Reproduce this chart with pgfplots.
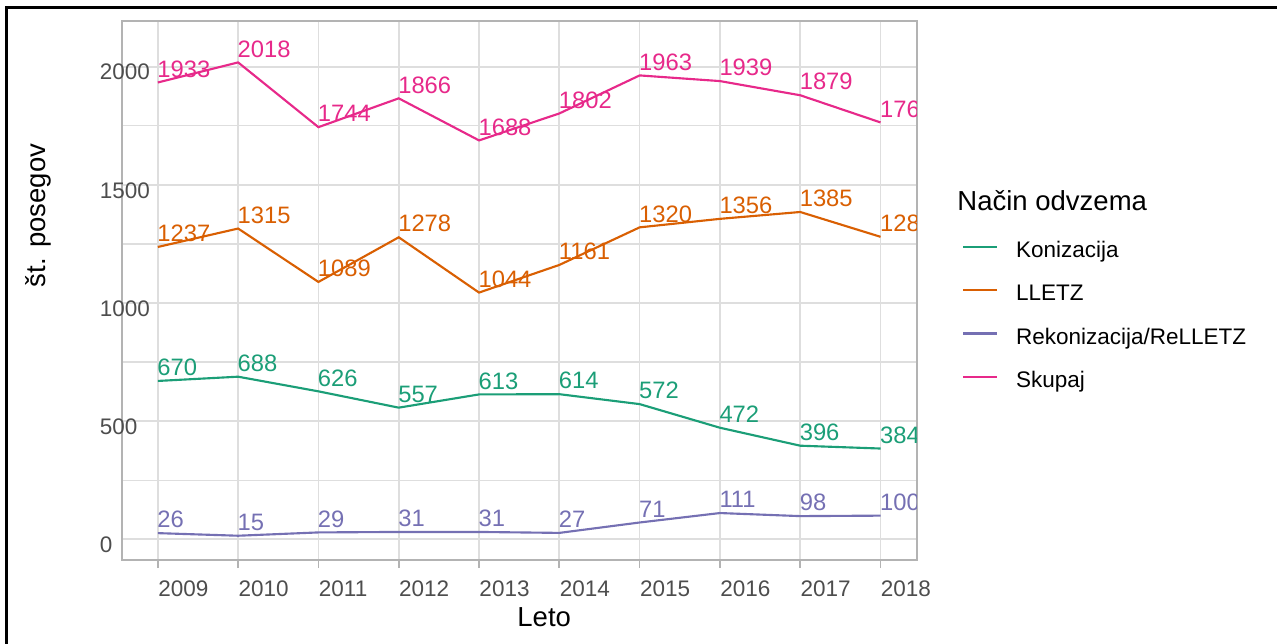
\documentclass[border=0pt]{standalone}
\usepackage{fontspec}
\setmainfont{Liberation Sans}
\usepackage{pgfplots}
\usepackage{pgfplotstable}
\pgfplotsset{compat=1.18}
\definecolor{dkA}{HTML}{1B9E77}
\definecolor{dkB}{HTML}{D95F02}
\definecolor{dkC}{HTML}{7570B3}
\definecolor{dkD}{HTML}{E7298A}
\definecolor{grA}{HTML}{B3B3B3}
\definecolor{grB}{HTML}{DEDEDE}
\definecolor{grC}{HTML}{4D4D4D}
\pgfplotstableread{
year K L R S
2009 670 1237 26 1933
2010 688 1315 15 2018
2011 626 1089 29 1744
2012 557 1278 31 1866
2013 613 1044 31 1688
2014 614 1161 27 1802
2015 572 1320 71 1963
2016 472 1356 111 1939
2017 396 1385 98 1879
2018 384 1280 100 1764
}\data
\begin{document}
\begin{tikzpicture}
\useasboundingbox (-48.68pt,-33.08pt) rectangle (462.12pt,224.12pt);
\draw[black, line width=1pt] (-46.08pt,-40pt) -- (-46.08pt,221.12pt) -- (470pt,221.12pt);
\begin{axis}[
  at={(0pt,0pt)}, anchor=south west,
  scale only axis, width=318pt, height=215.6pt,
  xmin=2008.55, xmax=2018.45, ymin=-89, ymax=2192,
  xtick={2009,...,2018}, ytick={0,500,1000,1500,2000},
  minor ytick={250,750,1250,1750},
  grid=both,
  major grid style={grB, line width=0.7pt},
  minor grid style={grB, line width=0.5pt},
  axis line style={grA, line width=0.7pt},
  tick align=outside, major tick length=3.08pt, minor tick length=0pt,
  xtick pos=bottom, ytick pos=left,
  xtick style={grA, line width=0.7pt},
  ytick style={draw=none},
  /pgf/number format/assume math mode=true,
  /pgf/number format/1000 sep={},
  tick label style={font=\fontsize{9}{10}\selectfont, text=grC},
  xticklabel style={anchor=north west, inner sep=0pt, yshift=-4.8pt},
  yticklabel style={anchor=west, inner sep=0pt, xshift=-5.88pt, yshift=-2.2pt},
  xlabel={Leto}, ylabel={št. posegov},
  label style={font=\fontsize{11}{12}\selectfont},
  xlabel style={at={(axis description cs:0.4972,-0.1232)}, anchor=base west, inner sep=0pt},
  ylabel style={at={(axis description cs:-0.0958,0.5061)}, anchor=base west, inner sep=0pt},
  clip marker paths=true,
  legend cell align=left,
  legend style={at={(axis description cs:1.05736,0.60148)}, anchor=north west,
    draw=none, fill=none, inner sep=0pt, outer sep=0pt, row sep=8.88pt,
    font=\fontsize{9}{10}\selectfont,
    nodes={inner sep=0pt, text height=8.48pt, text depth=0pt},
    /tikz/every odd column/.style={column sep=7.2pt}},
  legend image code/.code={\draw[#1] (0pt,0pt) -- (13.48pt,0pt);},
  every axis plot/.append style={line width=0.85pt},
  lab/.style={draw=none, mark=none, forget plot, nodes near coords,
    every node near coord/.append style={font=\fontsize{9.5}{10}\selectfont, anchor=west, inner sep=0pt, xshift=-0.6pt, yshift=5.4pt, text=#1}},
  after end axis/.code={\node[anchor=base west, inner sep=0pt, font=\fontsize{11}{12}\selectfont] at (axis description cs:1.0507,0.6481) {Način odvzema};},
]
\addplot[dkA] table[x=year,y=K] {\data}; \addlegendentry{Konizacija}
\addplot[dkB] table[x=year,y=L] {\data}; \addlegendentry{LLETZ}
\addplot[dkC] table[x=year,y=R] {\data}; \addlegendentry{Rekonizacija/ReLLETZ}
\addplot[dkD] table[x=year,y=S] {\data}; \addlegendentry{Skupaj}
\addplot[lab=dkA] table[x=year,y=K] {\data};
\addplot[lab=dkB] table[x=year,y=L] {\data};
\addplot[lab=dkC] table[x=year,y=R] {\data};
\addplot[lab=dkD] table[x=year,y=S] {\data};
\end{axis}
\end{tikzpicture}
\end{document}
